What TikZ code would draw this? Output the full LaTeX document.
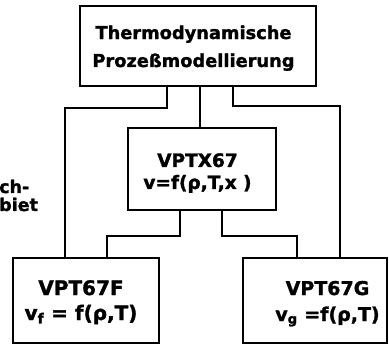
\documentclass[tikz,border=0pt]{standalone}
\usepackage{fontspec}
\setmainfont{DejaVu Sans}[BoldFeatures={FakeBold=1.5}]
\begin{document}
\begin{tikzpicture}[x=1pt,y=-1pt,
  box/.style={draw,line width=2.2pt,rectangle,inner sep=0pt},
  txt/.style={anchor=base,align=center,inner sep=0pt},
  conn/.style={line width=2.2pt},
  lbl/.style={font=\bfseries\fontsize{17.5}{17.5}\selectfont,anchor=base west,inner sep=0pt}]
\useasboundingbox (0,0) rectangle (389,345);
\node[box,minimum width=236pt,minimum height=80pt] (top) at (198,46) {};
\node[box,minimum width=148pt,minimum height=82pt] (mid) at (202,169) {};
\node[box,minimum width=146pt,minimum height=85pt] (lf) at (86,300.5) {};
\node[box,minimum width=144pt,minimum height=85pt] (rt) at (315,300.5) {};
\node[txt,font=\bfseries\fontsize{17.8}{28}\selectfont] (topT) at (193.5,67) {Thermodynamische\\Prozeßmodellierung};
\node[txt,font=\bfseries\fontsize{18.5}{22}\selectfont] (midT) at (197.5,189) {VPTX67\\v=f(ρ,T,x )};
\node[txt,font=\bfseries\fontsize{20}{25}\selectfont] (lfT) at (81,320) {VPT67F\\v\textsubscript{f} = f(ρ,T)};
\node[txt,font=\bfseries\fontsize{19}{26}\selectfont] (rtT) at (327.5,321) {VPT67G\\v\textsubscript{g} =f(ρ,T)};
\node[lbl] (t1) at (-1,193) {ch-};
\node[lbl] (t2) at (-1,211) {biet};
\draw[conn] ([xshift=-31pt]top.south) -- ++(0,21) -| ([xshift=-21pt]lf.north);
\draw[conn] ([xshift=35pt]top.south) -- ++(0,19) -| ([xshift=25pt]rt.north);
\draw[conn] ([xshift=2pt]top.south) -- ([xshift=-2pt]mid.north);
\draw[conn] ([xshift=-22pt]mid.south) -- ++(0,25) -| ([xshift=21pt]lf.north);
\draw[conn] ([xshift=20pt]mid.south) -- ++(0,25) -| ([xshift=-18pt]rt.north);
\end{tikzpicture}
\end{document}
